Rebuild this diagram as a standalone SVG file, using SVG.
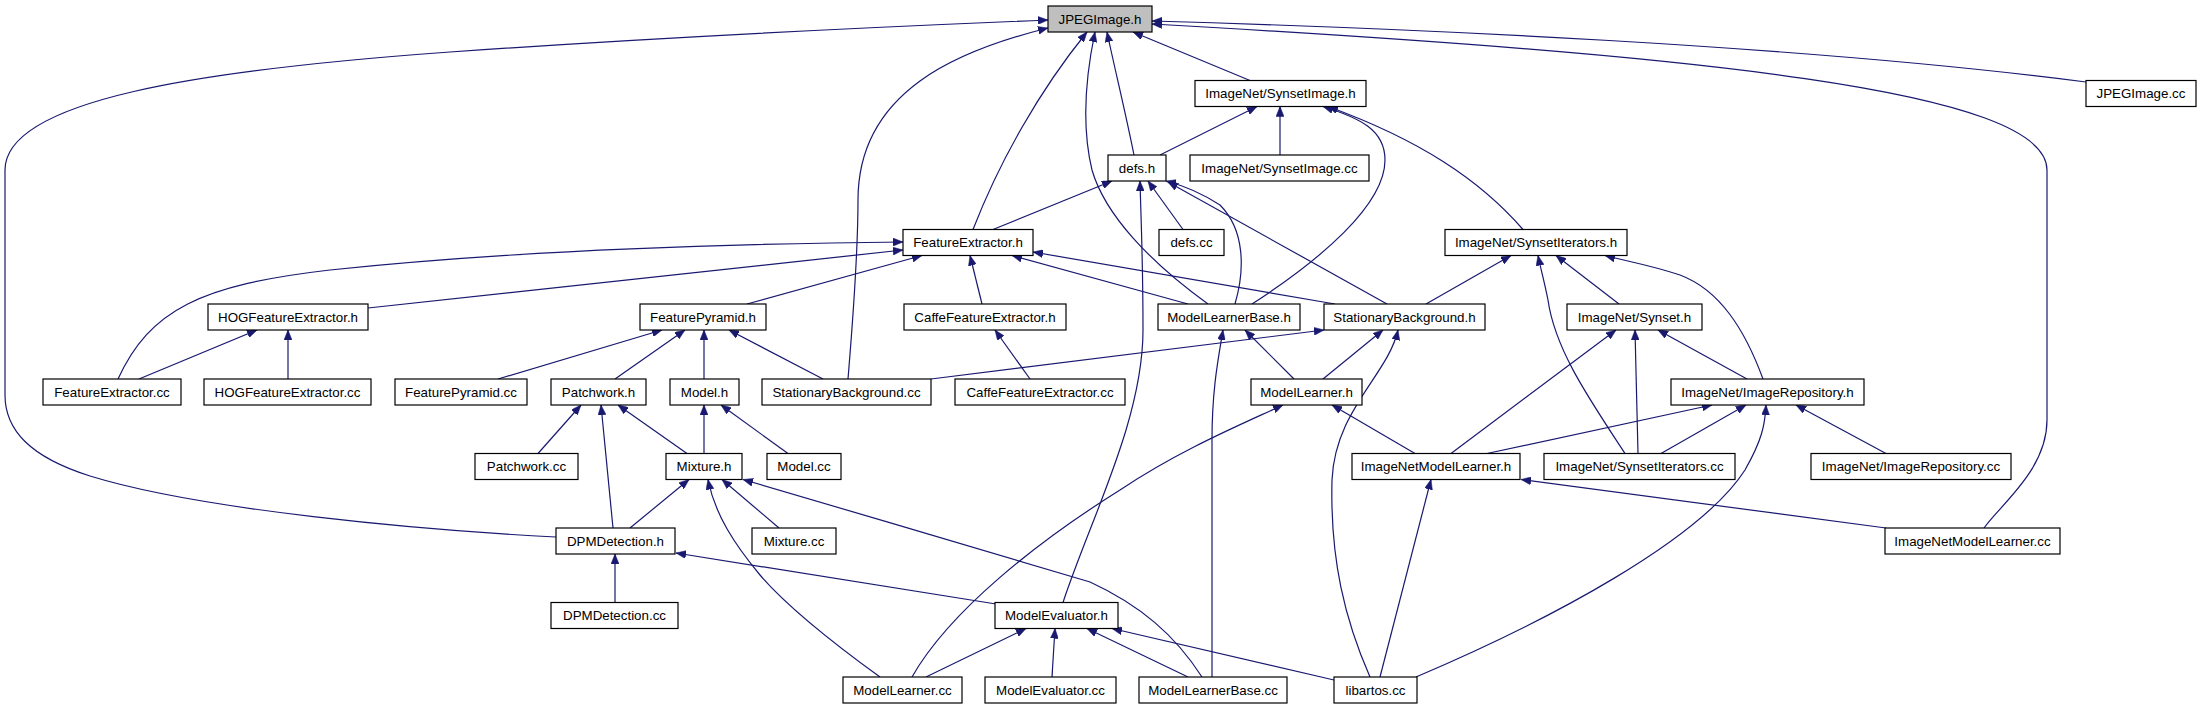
<svg xmlns="http://www.w3.org/2000/svg" width="2203" height="709" viewBox="0 0 2203 709">
<style>
.n rect{fill:#ffffff;stroke:#000000;stroke-width:1.2}
.n.root rect{fill:#bfbfbf}
.n text{font-family:"Liberation Sans",Arial,sans-serif;font-size:13.33px;text-anchor:middle;fill:#000}
#edges path{fill:none;stroke:#191970;stroke-width:1.2;marker-end:url(#ah)}
</style>
<defs>
<marker id="ah" viewBox="0 0 10 8" refX="10" refY="4" markerWidth="10" markerHeight="8" markerUnits="userSpaceOnUse" orient="auto">
<path d="M0,0 L10,4 L0,8 z" fill="#191970" stroke="#191970" stroke-width="0.5"/>
</marker>
</defs>
<rect width="2203" height="709" fill="#ffffff"/>
<g id="edges">
<path d="M556,537 C420,530 200,510 90,476 C30,457 5,430 5,395 L5,170 C5,100 200,70 450,52 C650,38 900,26 1048,20"/>
<path d="M848,379 C852,330 858,260 858,200 C858,90 960,50 1048,28"/>
<path d="M973,229.5 C1000,160 1040,90 1087,32"/>
<path d="M1208,304 C1150,262 1105,215 1092,170 C1080,120 1087,70 1095,32"/>
<path d="M1134,155 C1125,110 1115,70 1107,32"/>
<path d="M1250,80.5 L1133,32"/>
<path d="M2086,82 C1800,45 1400,28 1152,21"/>
<path d="M1984,528 C2000,505 2047,470 2047,420 L2047,170 C2047,90 1700,55 1152,24"/>
<path d="M1160,155 L1257,106.5"/>
<path d="M1280,155 L1280,106.5"/>
<path d="M1252,304 C1320,260 1385,205 1385,160 C1385,130 1360,118 1323,106.5"/>
<path d="M1523,229.5 C1480,180 1420,140 1328,106.5"/>
<path d="M993,229.5 L1112,181"/>
<path d="M1063,602.5 C1090,520 1143,420 1143,330 C1143,260 1141,220 1140,181"/>
<path d="M1183,229.5 L1148,181"/>
<path d="M1235,304 C1245,270 1245,230 1220,205 C1200,192 1185,186 1166,181"/>
<path d="M1387,304 L1168,182"/>
<path d="M118,379 C150,310 200,285 330,270 C500,252 700,244 903,242"/>
<path d="M368,308 L903,250"/>
<path d="M747,304 L922,255.5"/>
<path d="M982,304 L970,255.5"/>
<path d="M1188,304 L1012,255.5"/>
<path d="M1335,304 L1033,252"/>
<path d="M139,379 L257,330"/>
<path d="M288,379 L288,330"/>
<path d="M498,379 L662,330"/>
<path d="M615,379 L685,330"/>
<path d="M704,379 L704,330"/>
<path d="M823,379 L729,330"/>
<path d="M1030,379 L995,330"/>
<path d="M1294,379 L1245,330"/>
<path d="M1212,677 L1212,440 C1212,390 1218,360 1223,330"/>
<path d="M931,379 L1324,330"/>
<path d="M1323,379 L1383,330"/>
<path d="M1370,677 C1345,620 1330,560 1332,480 C1335,410 1388,375 1398,330"/>
<path d="M1426,304 L1511,255.5"/>
<path d="M1625,453.5 C1590,400 1555,350 1548,300 C1544,280 1541,270 1538,255.5"/>
<path d="M1619,304 L1556,255.5"/>
<path d="M1763,379 C1745,330 1720,290 1680,275 C1650,265 1630,262 1605,255.5"/>
<path d="M1451,453.5 L1616,330"/>
<path d="M1638,453.5 L1635,330"/>
<path d="M1747,379 L1658,330"/>
<path d="M1487,453.5 L1712,405"/>
<path d="M1661,453.5 L1746,405"/>
<path d="M1416,677 C1550,620 1700,540 1745,470 C1762,440 1765,425 1766,405"/>
<path d="M1886,453.5 L1796,405"/>
<path d="M538,453.5 L581,405"/>
<path d="M613,528 L601,405"/>
<path d="M687,453.5 L618,405"/>
<path d="M704,453.5 L704,405"/>
<path d="M788,453.5 L721,405"/>
<path d="M912,677 C950,610 1040,540 1120,490 C1180,450 1240,425 1283,405"/>
<path d="M1415,453.5 L1332,405"/>
<path d="M630,528 L689,479.5"/>
<path d="M779,528 L722,479.5"/>
<path d="M880,677 C840,648 790,610 760,575 C735,545 715,515 708,479.5"/>
<path d="M1202,677 C1175,635 1140,605 1090,582 C1000,555 850,511 743,479.5"/>
<path d="M615,602.5 L615,554"/>
<path d="M996,604 L676,553"/>
<path d="M1380,677 L1431,479.5"/>
<path d="M1886,528 L1521,479.5"/>
<path d="M926,677 L1026,628.5"/>
<path d="M1052,677 L1055,628.5"/>
<path d="M1188,677 L1087,628.5"/>
<path d="M1334,680 L1112,628.5"/>
</g>
<g id="n_JPEGImage_h" class="n root"><rect x="1048" y="6" width="104" height="26"/><text x="1100" y="23.5">JPEGImage.h</text></g>
<g id="n_SynsetImage_h" class="n"><rect x="1195" y="80.5" width="171" height="26"/><text x="1280.5" y="98">ImageNet/SynsetImage.h</text></g>
<g id="n_JPEGImage_cc" class="n"><rect x="2086" y="80.5" width="110" height="26"/><text x="2141" y="98">JPEGImage.cc</text></g>
<g id="n_defs_h" class="n"><rect x="1108" y="155" width="58" height="26"/><text x="1137" y="172.5">defs.h</text></g>
<g id="n_SynsetImage_cc" class="n"><rect x="1190" y="155" width="179" height="26"/><text x="1279.5" y="172.5">ImageNet/SynsetImage.cc</text></g>
<g id="n_FeatureExtractor_h" class="n"><rect x="903" y="229.5" width="130" height="26"/><text x="968" y="247">FeatureExtractor.h</text></g>
<g id="n_defs_cc" class="n"><rect x="1159" y="229.5" width="65" height="26"/><text x="1191.5" y="247">defs.cc</text></g>
<g id="n_SynsetIterators_h" class="n"><rect x="1445" y="229.5" width="182" height="26"/><text x="1536" y="247">ImageNet/SynsetIterators.h</text></g>
<g id="n_HOGFeatureExtractor_h" class="n"><rect x="208" y="304" width="160" height="26"/><text x="288" y="321.5">HOGFeatureExtractor.h</text></g>
<g id="n_FeaturePyramid_h" class="n"><rect x="640" y="304" width="126" height="26"/><text x="703" y="321.5">FeaturePyramid.h</text></g>
<g id="n_CaffeFeatureExtractor_h" class="n"><rect x="904" y="304" width="162" height="26"/><text x="985" y="321.5">CaffeFeatureExtractor.h</text></g>
<g id="n_ModelLearnerBase_h" class="n"><rect x="1158" y="304" width="142" height="26"/><text x="1229" y="321.5">ModelLearnerBase.h</text></g>
<g id="n_StationaryBackground_h" class="n"><rect x="1324" y="304" width="161" height="26"/><text x="1404.5" y="321.5">StationaryBackground.h</text></g>
<g id="n_Synset_h" class="n"><rect x="1567" y="304" width="135" height="26"/><text x="1634.5" y="321.5">ImageNet/Synset.h</text></g>
<g id="n_FeatureExtractor_cc" class="n"><rect x="43" y="379" width="138" height="26"/><text x="112" y="396.5">FeatureExtractor.cc</text></g>
<g id="n_HOGFeatureExtractor_cc" class="n"><rect x="204" y="379" width="167" height="26"/><text x="287.5" y="396.5">HOGFeatureExtractor.cc</text></g>
<g id="n_FeaturePyramid_cc" class="n"><rect x="395" y="379" width="132" height="26"/><text x="461" y="396.5">FeaturePyramid.cc</text></g>
<g id="n_Patchwork_h" class="n"><rect x="551" y="379" width="95" height="26"/><text x="598.5" y="396.5">Patchwork.h</text></g>
<g id="n_Model_h" class="n"><rect x="670" y="379" width="69" height="26"/><text x="704.5" y="396.5">Model.h</text></g>
<g id="n_StationaryBackground_cc" class="n"><rect x="762" y="379" width="169" height="26"/><text x="846.5" y="396.5">StationaryBackground.cc</text></g>
<g id="n_CaffeFeatureExtractor_cc" class="n"><rect x="955" y="379" width="170" height="26"/><text x="1040" y="396.5">CaffeFeatureExtractor.cc</text></g>
<g id="n_ModelLearner_h" class="n"><rect x="1251" y="379" width="111" height="26"/><text x="1306.5" y="396.5">ModelLearner.h</text></g>
<g id="n_ImageRepository_h" class="n"><rect x="1671" y="379" width="193" height="26"/><text x="1767.5" y="396.5">ImageNet/ImageRepository.h</text></g>
<g id="n_Patchwork_cc" class="n"><rect x="475" y="453.5" width="103" height="26"/><text x="526.5" y="471">Patchwork.cc</text></g>
<g id="n_Mixture_h" class="n"><rect x="666" y="453.5" width="76" height="26"/><text x="704" y="471">Mixture.h</text></g>
<g id="n_Model_cc" class="n"><rect x="767" y="453.5" width="74" height="26"/><text x="804" y="471">Model.cc</text></g>
<g id="n_ImageNetModelLearner_h" class="n"><rect x="1352" y="453.5" width="168" height="26"/><text x="1436" y="471">ImageNetModelLearner.h</text></g>
<g id="n_SynsetIterators_cc" class="n"><rect x="1544" y="453.5" width="191" height="26"/><text x="1639.5" y="471">ImageNet/SynsetIterators.cc</text></g>
<g id="n_ImageRepository_cc" class="n"><rect x="1811" y="453.5" width="200" height="26"/><text x="1911" y="471">ImageNet/ImageRepository.cc</text></g>
<g id="n_DPMDetection_h" class="n"><rect x="556" y="528" width="119" height="26"/><text x="615.5" y="545.5">DPMDetection.h</text></g>
<g id="n_Mixture_cc" class="n"><rect x="752" y="528" width="84" height="26"/><text x="794" y="545.5">Mixture.cc</text></g>
<g id="n_ImageNetModelLearner_cc" class="n"><rect x="1885" y="528" width="175" height="26"/><text x="1972.5" y="545.5">ImageNetModelLearner.cc</text></g>
<g id="n_DPMDetection_cc" class="n"><rect x="551" y="602.5" width="127" height="26"/><text x="614.5" y="620">DPMDetection.cc</text></g>
<g id="n_ModelEvaluator_h" class="n"><rect x="995" y="602.5" width="123" height="26"/><text x="1056.5" y="620">ModelEvaluator.h</text></g>
<g id="n_ModelLearner_cc" class="n"><rect x="843" y="677" width="119" height="26"/><text x="902.5" y="694.5">ModelLearner.cc</text></g>
<g id="n_ModelEvaluator_cc" class="n"><rect x="985" y="677" width="131" height="26"/><text x="1050.5" y="694.5">ModelEvaluator.cc</text></g>
<g id="n_ModelLearnerBase_cc" class="n"><rect x="1139" y="677" width="148" height="26"/><text x="1213" y="694.5">ModelLearnerBase.cc</text></g>
<g id="n_libartos_cc" class="n"><rect x="1334" y="677" width="83" height="26"/><text x="1375.5" y="694.5">libartos.cc</text></g>
</svg>
